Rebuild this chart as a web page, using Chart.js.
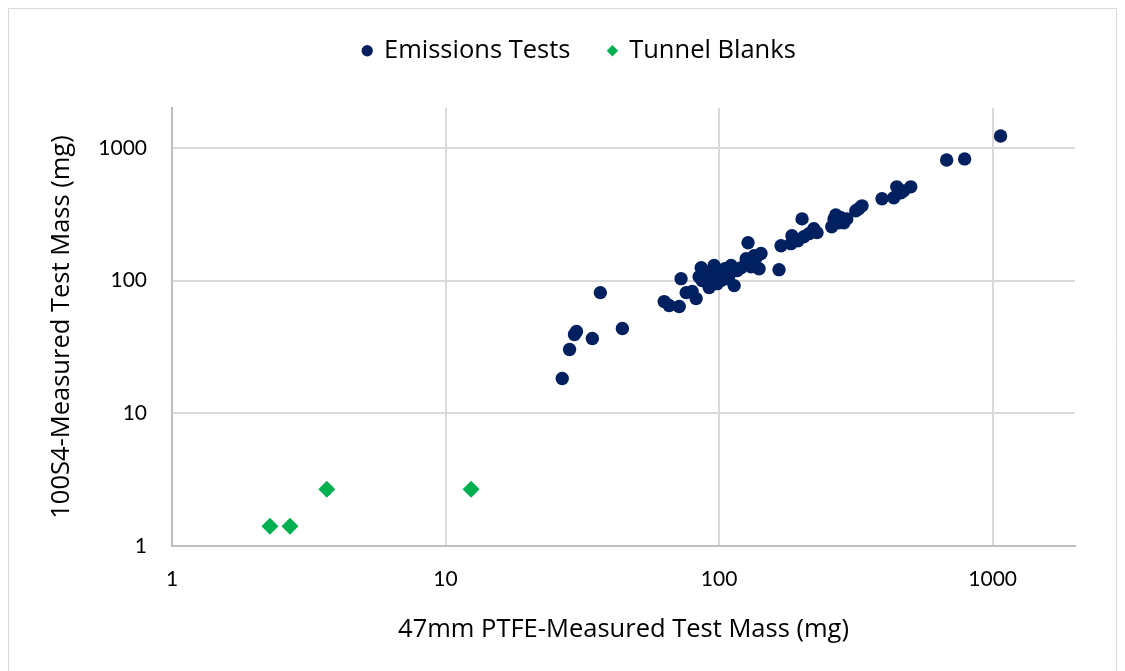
<!DOCTYPE html>
<html><head><meta charset="utf-8">
<script src="https://cdn.jsdelivr.net/npm/chart.js@4/dist/chart.umd.min.js"></script>
<style>html,body{margin:0;padding:0;background:#fff;}</style>
</head><body>
<canvas id="c" width="1125" height="671"></canvas>
<script>
const seriesNames = ['Emissions Tests', 'Tunnel Blanks'];
const emissionsX = [26.7, 28.4, 29.6, 30.1, 34.4, 36.8, 44.3, 63.0, 65.7, 71.5, 72.6, 75.8, 79.7, 82.4, 86.0, 86.7, 88.9,
  92.0, 94.3, 96.7, 98.4, 100, 101.6, 104.3, 107, 110.6, 113.5, 116.4, 120.3, 125.6, 127.6, 130.9, 134.3, 136.5, 140, 142.3, 165.6,
  168.4, 183, 184.6, 194, 201, 204, 213, 222, 228, 258, 263, 267, 279, 293, 316, 324, 333, 394, 435, 446,
  462, 473, 502, 679, 790, 1069, 90.4, 93.5, 105, 108.7, 84.5, 95.9, 274, 286];
const emissionsY = [18.3, 30.3, 39.3, 41.4, 36.6, 81.2, 43.6, 69.5, 64.9, 63.8, 103.5, 81.2, 82.7, 73.2, 125.3, 100, 109,
  88.6, 105, 119, 94.9, 109, 100, 115, 103.5, 130, 91.7, 119, 125, 146, 193, 127, 154, 149, 123, 160, 121,
  183, 190, 218, 200, 292, 214, 226, 246, 230, 255, 292, 313, 298, 292, 336, 348, 366, 414, 421, 509,
  459, 475, 509, 812, 827, 1231, 115, 94.9, 123, 109, 107, 130, 273, 273];
const blanksX = [2.28, 2.70, 3.68, 12.4];
const blanksY = [1.41, 1.41, 2.68, 2.68];
const tickValues = [1, 10, 100, 1000];
const xTitle = '47mm PTFE-Measured Test Mass (mg)';
const yTitle = '100S4-Measured Test Mass (mg)';

const tickFont = {family: 'Lato', size: 21};
const textFont = {family: 'Open Sans', size: 25.5};

const frame = {
  id: 'frame',
  beforeDraw(chart) {
    const ctx = chart.ctx;
    ctx.save();
    ctx.fillStyle = '#fff';
    ctx.fillRect(0, 0, chart.width, chart.height);
    ctx.strokeStyle = '#d9d9d9';
    ctx.lineWidth = 1;
    ctx.beginPath();
    ctx.moveTo(8.5, chart.height);
    ctx.lineTo(8.5, 8.5);
    ctx.lineTo(chart.width - 8.5, 8.5);
    ctx.lineTo(chart.width - 8.5, chart.height);
    ctx.stroke();
    ctx.restore();
  }
};
const legendBox = {
  id: 'legendBox',
  beforeLayout(chart) {
    const lg = chart.legend;
    if (lg && !lg._patched) {
      const origFit = lg.fit;
      lg.fit = function () { origFit.call(this); this.height = 108; };
      const origDraw = lg.draw;
      lg.draw = function () {
        const ctx = this.ctx;
        ctx.save();
        ctx.translate(21, 0);
        origDraw.apply(this, arguments);
        ctx.restore();
      };
      lg._patched = true;
    }
  }
};

new Chart(document.getElementById('c'), {
  type: 'scatter',
  data: {
    datasets: [
      {
        label: seriesNames[0],
        data: emissionsX.map((x, i) => ({x, y: emissionsY[i]})),
        pointStyle: 'circle', pointRadius: 6.7,
        backgroundColor: '#002060', borderColor: '#002060', borderWidth: 0
      },
      {
        label: seriesNames[1],
        data: blanksX.map((x, i) => ({x, y: blanksY[i]})),
        pointStyle: 'rectRot', pointRadius: 8.5,
        backgroundColor: '#00B050', borderColor: '#00B050', borderWidth: 0
      }
    ]
  },
  options: {
    responsive: false,
    animation: false,
    devicePixelRatio: 1,
    layout: {padding: {top: 0, left: 42, right: 50, bottom: 22}},
    plugins: {
      tooltip: {enabled: false},
      legend: {
        position: 'top',
        labels: {
          usePointStyle: true, boxWidth: 8, boxHeight: 8, padding: 38,
          font: textFont, color: '#000'
        }
      }
    },
    scales: {
      x: {
        type: 'logarithmic', min: 1, max: 2000,
        afterBuildTicks: s => { s.ticks = tickValues.map(v => ({value: v})); },
        afterFit: s => { s.height = 103; },
        ticks: {font: tickFont, color: '#000', padding: 21, maxRotation: 0, autoSkip: false, callback: v => String(v)},
        grid: {color: '#d9d9d9', lineWidth: 2, drawTicks: false},
        border: {color: '#bfbfbf', width: 2},
        title: {display: true, text: xTitle, font: textFont, color: '#000', padding: {top: 4, bottom: 4}}
      },
      y: {
        type: 'logarithmic', min: 1, max: 2000,
        afterBuildTicks: s => { s.ticks = tickValues.map(v => ({value: v})); },
        afterFit: s => { s.width = 130; },
        ticks: {font: tickFont, color: '#000', padding: 25, autoSkip: false, callback: v => String(v)},
        grid: {color: '#d9d9d9', lineWidth: 2, drawTicks: false},
        border: {color: '#bfbfbf', width: 2},
        title: {display: true, text: yTitle, font: textFont, color: '#000', padding: {top: 4, bottom: 4}}
      }
    }
  },
  plugins: [frame, legendBox]
});
</script>
</body></html>
